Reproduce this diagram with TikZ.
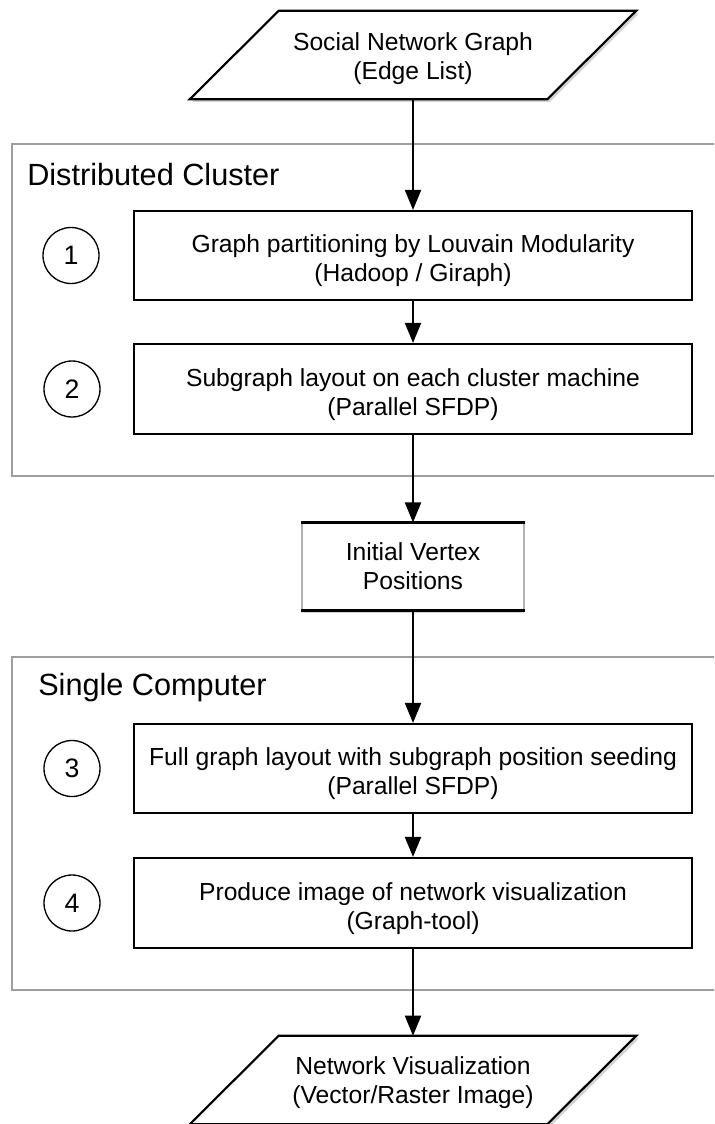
\documentclass[tikz,border=0pt]{standalone}
\usepackage{fontspec}
\setmainfont{Liberation Sans}
\usetikzlibrary{arrows.meta,shadows}
\begin{document}
\begin{tikzpicture}[x=0.75pt,y=-0.75pt,
  every node/.style={font=\fontsize{18.5}{21.75}\selectfont, align=center},
  procbox/.style={draw=black, line width=1.6pt, fill=white, minimum width=418.5pt, inner sep=0pt, text height=43pt},
  numcirc/.style={draw=black, line width=1pt, circle, minimum size=42pt, inner sep=0pt, font=\fontsize{20}{24}\selectfont},
  container/.style={draw=black!38, line width=1.5pt},
  grouplabel/.style={anchor=west, inner sep=0pt, font=\fontsize{23}{27}\selectfont},
  flow/.style={line width=1.5pt, -{Triangle[length=15pt,width=12pt]}},
  ioshape/.style={draw=black, line width=1.6pt, fill=white, drop shadow={opacity=0.35, shadow xshift=2pt, shadow yshift=-2pt}},
  iotext/.style={minimum width=201pt, minimum height=66pt, inner sep=0pt}
]
\path[use as bounding box] (0,0) rectangle (714,1124);
\clip (0,0) rectangle (714,1124);

% containers
\draw[container, fill=white] (12,144) rectangle (740,476);
\draw[container, fill=white] (12,657) rectangle (740,990);
\node[grouplabel] (lab1) at (27,175) {Distributed Cluster};
\node[grouplabel] (lab2) at (38,688) {Single Computer};

% input parallelogram
\node[iotext] (src) at (413,55) {};
\path[ioshape] (src.north west) -- ([xshift=66.75pt]src.north east) -- (src.south east) -- ([xshift=-66.75pt]src.south west) -- cycle;
\node at (413,58.5) {Social Network Graph\\(Edge List)};

% output parallelogram
\node[iotext] (dst) at (413,1080) {};
\path[ioshape] (dst.north west) -- ([xshift=66.75pt]dst.north east) -- (dst.south east) -- ([xshift=-66.75pt]dst.south west) -- cycle;
\node at (413,1083) {Network Visualization\\(Vector/Raster Image)};

% process boxes
\node[procbox, minimum height=66.75pt] (b1) at (413,255.5) {Graph partitioning by Louvain Modularity\\(Hadoop / Giraph)};
\node[procbox, minimum height=67.5pt] (b2) at (413,389) {Subgraph layout on each cluster machine\\(Parallel SFDP)};
\node[procbox, minimum height=66.75pt] (b3) at (413,768.5) {Full graph layout with subgraph position seeding\\(Parallel SFDP)};
\node[procbox, minimum height=67.5pt] (b4) at (413,903) {Produce image of network visualization\\(Graph-tool)};

% numbers
\node[numcirc] (n1) at (71,255.5) {1};
\node[numcirc] (n2) at (72,389) {2};
\node[numcirc] (n3) at (72,768.5) {3};
\node[numcirc] (n4) at (72,903) {4};

% intermediate data
\node[draw=black!30, line width=0.8pt, fill=white, minimum width=166.5pt, minimum height=65.25pt, inner sep=0pt,
      drop shadow={opacity=0.35, shadow xshift=0pt, shadow yshift=-2.5pt}] (iv) at (413,566.5) {Initial Vertex\\Positions};
\draw[line width=1.6pt] (iv.north west) -- (iv.north east);
\draw[line width=1.6pt] (iv.south west) -- (iv.south east);

% connectors
\draw[flow] (src.south) -- (b1.north);
\draw[flow] (b1.south) -- (b2.north);
\draw[flow] (b2.south) -- (iv.north);
\draw[flow] (iv.south) -- (b3.north);
\draw[flow] (b3.south) -- (b4.north);
\draw[flow] (b4.south) -- (dst.north);
\end{tikzpicture}
\end{document}
